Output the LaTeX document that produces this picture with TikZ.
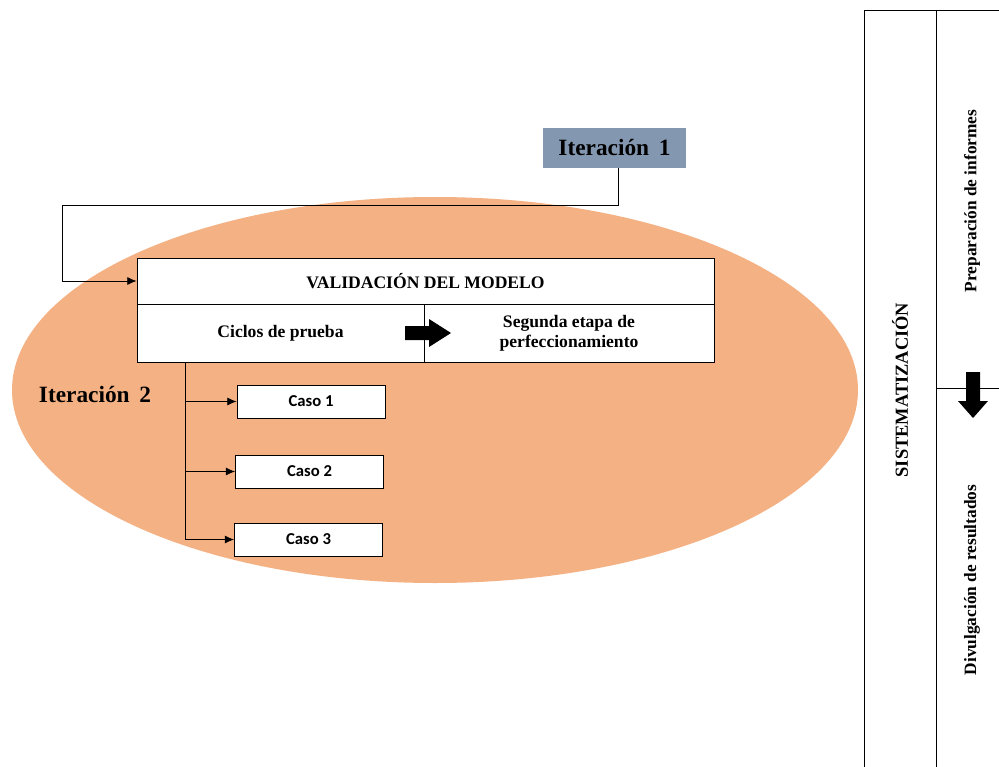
\documentclass[tikz,border=0pt]{standalone}
\usepackage{fontspec}
\setmainfont{Liberation Serif}
\newfontfamily\casofont{Carlito}
\usetikzlibrary{arrows.meta}
\definecolor{elipse}{HTML}{F4B183}
\definecolor{iterbox}{HTML}{8497B0}
\tikzset{
    cell/.style={draw, fill=white, inner sep=0pt, align=center, font=\bfseries\fontsize{13.2}{15}\selectfont},
    casebox/.style={draw, fill=white, inner sep=0pt, minimum width=111pt, minimum height=24.75pt, font=\casofont\bfseries\fontsize{12.5}{14}\selectfont},
    sidetext/.style={rotate=90, font=\bfseries\fontsize{13}{15}\selectfont},
    conn/.style={-{Latex[length=7pt,width=6pt]}, line width=0.6pt}
}
\begin{document}
\begin{tikzpicture}[x=0.75pt, y=-0.75pt, line width=0.6pt]
    \clip (0,0) rectangle (999,767);
    % Background ellipse
    \fill[elipse] (435,390) ellipse [x radius=423, y radius=193];
    \node[font=\bfseries\fontsize{17.5}{20}\selectfont] (iter2) at (95,395) {Iteraci\'on\, 2};
    % Iteration 1 tag
    \node[fill=iterbox, minimum width=107.25pt, minimum height=30pt, font=\bfseries\fontsize{17.5}{20}\selectfont] (iter1) at (614.5,148) {Iteraci\'on\, 1};
    % Validation table
    \node[cell, minimum width=432.75pt, minimum height=34.5pt] (valid) at (425.5,281) {VALIDACI\'ON DEL MODELO};
    \node[cell, minimum width=215.25pt, minimum height=43.5pt] (ciclos) at (280.5,333) {Ciclos de prueba};
    \node[cell, minimum width=217.5pt, minimum height=43.5pt] (segunda) at (569,333) {Segunda etapa de\\perfeccionamiento};
    \fill (405,326) -- (429,326) -- (429,319) -- (451,333) -- (429,347) -- (429,340) -- (405,340) -- cycle;
    % Return line
    \coordinate (ret) at (62,205);
    \draw[conn] ([xshift=2.6pt]iter1.south) |- (ret) |- (valid.west);
    % Cases
    \node[casebox] (caso1) at (311,401.5) {Caso 1};
    \node[casebox] (caso2) at (309.5,471.5) {Caso 2};
    \node[casebox] (caso3) at (308.5,539.5) {Caso 3};
    \coordinate (tronco) at (185,362);
    \draw[conn] (tronco) |- (caso3.west);
    \draw[conn] (tronco |- caso1.west) -- (caso1.west);
    \draw[conn] (tronco |- caso2.west) -- (caso2.west);
    % Right column
    \draw (864,10) rectangle (1010,780);
    \draw (936,10) -- (936,780);
    \draw (936,388) -- (1010,388);
    \node[sidetext, font=\bfseries\fontsize{13.8}{15}\selectfont] (sist) at (900,390) {SISTEMATIZACI\'ON};
    \node[sidetext] (prep) at (972,201) {Preparaci\'on de informes};
    \node[sidetext] (divul) at (972,580) {Divulgaci\'on de resultados};
    \fill (966,372) -- (980,372) -- (980,401) -- (988,401) -- (973,418) -- (958,401) -- (966,401) -- cycle;
\end{tikzpicture}
\end{document}
